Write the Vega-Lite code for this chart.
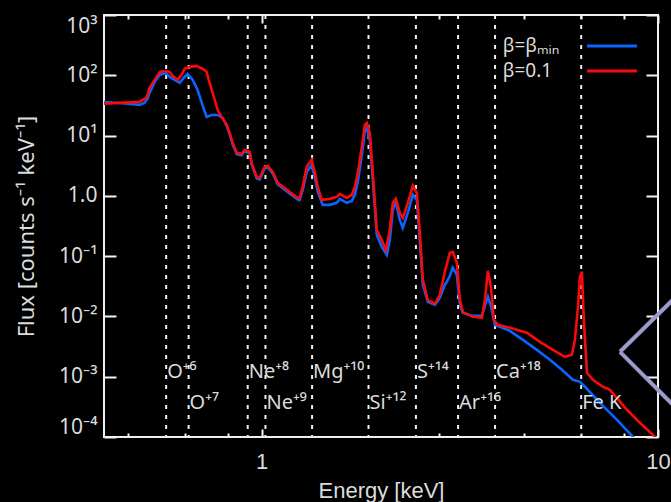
{
  "$schema": "https://vega.github.io/schema/vega-lite/v6.json",
  "width": 554,
  "height": 422,
  "autosize": {"type": "none"},
  "padding": {"left": 104, "top": 15, "right": 13, "bottom": 65},
  "background": "#000000",
  "config": {
    "font": "Liberation Sans",
    "view": {"stroke": "#f0f0f0", "strokeWidth": 2, "fill": "#000000"},
    "axis": {"grid": false, "domain": false, "tickColor": "#f4f4f4", "tickWidth": 2, "labelColor": "#dcdcdc", "titleColor": "#dcdcdc", "labelFont": "Noto Sans", "titleFont": "Noto Sans", "labelFontSize": 21, "titleFontSize": 21, "titleFontWeight": "normal"}
  },
  "datasets": {
    "spectra": [
      {"model": "β=βmin", "energy": 0.395, "flux": 36.2},
      {"model": "β=βmin", "energy": 0.438, "flux": 34.8},
      {"model": "β=βmin", "energy": 0.492, "flux": 32.3},
      {"model": "β=βmin", "energy": 0.506, "flux": 34.8},
      {"model": "β=βmin", "energy": 0.515, "flux": 40.6},
      {"model": "β=βmin", "energy": 0.521, "flux": 51},
      {"model": "β=βmin", "energy": 0.537, "flux": 77.8},
      {"model": "β=βmin", "energy": 0.553, "flux": 101.6},
      {"model": "β=βmin", "energy": 0.572, "flux": 110},
      {"model": "β=βmin", "energy": 0.586, "flux": 94},
      {"model": "β=βmin", "energy": 0.603, "flux": 84},
      {"model": "β=βmin", "energy": 0.621, "flux": 74.8},
      {"model": "β=βmin", "energy": 0.639, "flux": 94},
      {"model": "β=βmin", "energy": 0.650, "flux": 105.5},
      {"model": "β=βmin", "energy": 0.670, "flux": 84},
      {"model": "β=βmin", "energy": 0.689, "flux": 57.3},
      {"model": "β=βmin", "energy": 0.706, "flux": 34.8},
      {"model": "β=βmin", "energy": 0.726, "flux": 20.4},
      {"model": "β=βmin", "energy": 0.748, "flux": 22.0},
      {"model": "β=βmin", "energy": 0.774, "flux": 22.0},
      {"model": "β=βmin", "energy": 0.797, "flux": 19.7},
      {"model": "β=βmin", "energy": 0.816, "flux": 14.5},
      {"model": "β=βmin", "energy": 0.830, "flux": 10.6},
      {"model": "β=βmin", "energy": 0.845, "flux": 7.1},
      {"model": "β=βmin", "energy": 0.865, "flux": 4.9},
      {"model": "β=βmin", "energy": 0.890, "flux": 4.7},
      {"model": "β=βmin", "energy": 0.906, "flux": 5.5},
      {"model": "β=βmin", "energy": 0.933, "flux": 5.1},
      {"model": "β=βmin", "energy": 0.943, "flux": 3.35},
      {"model": "β=βmin", "energy": 0.971, "flux": 1.95},
      {"model": "β=βmin", "energy": 0.988, "flux": 1.88},
      {"model": "β=βmin", "energy": 1.018, "flux": 2.85},
      {"model": "β=βmin", "energy": 1.036, "flux": 2.95},
      {"model": "β=βmin", "energy": 1.066, "flux": 2.35},
      {"model": "β=βmin", "energy": 1.098, "flux": 1.55},
      {"model": "β=βmin", "energy": 1.157, "flux": 1.19},
      {"model": "β=βmin", "energy": 1.233, "flux": 0.87},
      {"model": "β=βmin", "energy": 1.247, "flux": 0.853},
      {"model": "β=βmin", "energy": 1.269, "flux": 1.258},
      {"model": "β=βmin", "energy": 1.299, "flux": 2.50},
      {"model": "β=βmin", "energy": 1.337, "flux": 3.26},
      {"model": "β=βmin", "energy": 1.361, "flux": 2.07},
      {"model": "β=βmin", "energy": 1.385, "flux": 1.17},
      {"model": "β=βmin", "energy": 1.426, "flux": 0.709},
      {"model": "β=βmin", "energy": 1.485, "flux": 0.709},
      {"model": "β=βmin", "energy": 1.547, "flux": 0.766},
      {"model": "β=βmin", "energy": 1.574, "flux": 0.892},
      {"model": "β=βmin", "energy": 1.639, "flux": 0.766},
      {"model": "β=βmin", "energy": 1.688, "flux": 0.826},
      {"model": "β=βmin", "energy": 1.718, "flux": 1.04},
      {"model": "β=βmin", "energy": 1.748, "flux": 1.71},
      {"model": "β=βmin", "energy": 1.789, "flux": 4.78},
      {"model": "β=βmin", "energy": 1.820, "flux": 11.5},
      {"model": "β=βmin", "energy": 1.842, "flux": 13.4},
      {"model": "β=βmin", "energy": 1.874, "flux": 8.5},
      {"model": "β=βmin", "energy": 1.907, "flux": 1.84},
      {"model": "β=βmin", "energy": 1.951, "flux": 0.226},
      {"model": "β=βmin", "energy": 2.009, "flux": 0.143},
      {"model": "β=βmin", "energy": 2.069, "flux": 0.105},
      {"model": "β=βmin", "energy": 2.105, "flux": 0.186},
      {"model": "β=βmin", "energy": 2.142, "flux": 0.586},
      {"model": "β=βmin", "energy": 2.180, "flux": 0.795},
      {"model": "β=βmin", "energy": 2.231, "flux": 0.400},
      {"model": "β=βmin", "energy": 2.270, "flux": 0.295},
      {"model": "β=βmin", "energy": 2.337, "flux": 0.523},
      {"model": "β=βmin", "energy": 2.406, "flux": 1.04},
      {"model": "β=βmin", "energy": 2.463, "flux": 0.859},
      {"model": "β=βmin", "energy": 2.506, "flux": 0.186},
      {"model": "β=βmin", "energy": 2.550, "flux": 0.0336},
      {"model": "β=βmin", "energy": 2.625, "flux": 0.0175},
      {"model": "β=βmin", "energy": 2.735, "flux": 0.0156},
      {"model": "β=βmin", "energy": 2.815, "flux": 0.0204},
      {"model": "β=βmin", "energy": 2.898, "flux": 0.0336},
      {"model": "β=βmin", "energy": 2.933, "flux": 0.0376},
      {"model": "β=βmin", "energy": 2.984, "flux": 0.0472},
      {"model": "β=βmin", "energy": 3.036, "flux": 0.0640},
      {"model": "β=βmin", "energy": 3.108, "flux": 0.0490},
      {"model": "β=βmin", "energy": 3.162, "flux": 0.0156},
      {"model": "β=βmin", "energy": 3.218, "flux": 0.0114},
      {"model": "β=βmin", "energy": 3.411, "flux": 0.0102},
      {"model": "β=βmin", "energy": 3.594, "flux": 0.0102},
      {"model": "β=βmin", "energy": 3.658, "flux": 0.0150},
      {"model": "β=βmin", "energy": 3.722, "flux": 0.0212},
      {"model": "β=βmin", "energy": 3.788, "flux": 0.0150},
      {"model": "β=βmin", "energy": 3.877, "flux": 0.00726},
      {"model": "β=βmin", "energy": 4.229, "flux": 0.00577},
      {"model": "β=βmin", "energy": 4.562, "flux": 0.00409},
      {"model": "β=βmin", "energy": 4.948, "flux": 0.00279},
      {"model": "β=βmin", "energy": 5.337, "flux": 0.00191},
      {"model": "β=βmin", "energy": 5.722, "flux": 0.00130},
      {"model": "β=βmin", "energy": 6.100, "flux": 0.000889},
      {"model": "β=βmin", "energy": 6.353, "flux": 0.000822},
      {"model": "β=βmin", "energy": 6.543, "flux": 0.000681},
      {"model": "β=βmin", "energy": 7.138, "flux": 0.000369},
      {"model": "β=βmin", "energy": 7.880, "flux": 0.000193},
      {"model": "β=βmin", "energy": 8.647, "flux": 0.0001007},
      {"model": "β=βmin", "energy": 9.006, "flux": 0.0000743},
      {"model": "β=0.1", "energy": 0.395, "flux": 33.6},
      {"model": "β=0.1", "energy": 0.438, "flux": 34.8},
      {"model": "β=0.1", "energy": 0.492, "flux": 36.2},
      {"model": "β=0.1", "energy": 0.506, "flux": 40.6},
      {"model": "β=0.1", "energy": 0.513, "flux": 43.8},
      {"model": "β=0.1", "energy": 0.521, "flux": 61.8},
      {"model": "β=0.1", "energy": 0.537, "flux": 84},
      {"model": "β=0.1", "energy": 0.553, "flux": 114},
      {"model": "β=0.1", "energy": 0.572, "flux": 118},
      {"model": "β=0.1", "energy": 0.586, "flux": 114},
      {"model": "β=0.1", "energy": 0.596, "flux": 97.7},
      {"model": "β=0.1", "energy": 0.614, "flux": 84},
      {"model": "β=0.1", "energy": 0.628, "flux": 101.6},
      {"model": "β=0.1", "energy": 0.639, "flux": 128},
      {"model": "β=0.1", "energy": 0.658, "flux": 138},
      {"model": "β=0.1", "energy": 0.685, "flux": 143},
      {"model": "β=0.1", "energy": 0.710, "flux": 128},
      {"model": "β=0.1", "energy": 0.726, "flux": 114},
      {"model": "β=0.1", "energy": 0.735, "flux": 84},
      {"model": "β=0.1", "energy": 0.748, "flux": 57.3},
      {"model": "β=0.1", "energy": 0.761, "flux": 39.1},
      {"model": "β=0.1", "energy": 0.774, "flux": 26.7},
      {"model": "β=0.1", "energy": 0.792, "flux": 20.4},
      {"model": "β=0.1", "energy": 0.816, "flux": 15.0},
      {"model": "β=0.1", "energy": 0.830, "flux": 11.1},
      {"model": "β=0.1", "energy": 0.845, "flux": 7.57},
      {"model": "β=0.1", "energy": 0.865, "flux": 5.16},
      {"model": "β=0.1", "energy": 0.890, "flux": 4.97},
      {"model": "β=0.1", "energy": 0.906, "flux": 5.79},
      {"model": "β=0.1", "energy": 0.933, "flux": 5.37},
      {"model": "β=0.1", "energy": 0.943, "flux": 3.53},
      {"model": "β=0.1", "energy": 0.971, "flux": 2.07},
      {"model": "β=0.1", "energy": 0.988, "flux": 1.99},
      {"model": "β=0.1", "energy": 1.018, "flux": 3.03},
      {"model": "β=0.1", "energy": 1.036, "flux": 3.15},
      {"model": "β=0.1", "energy": 1.066, "flux": 2.50},
      {"model": "β=0.1", "energy": 1.098, "flux": 1.64},
      {"model": "β=0.1", "energy": 1.157, "flux": 1.26},
      {"model": "β=0.1", "energy": 1.233, "flux": 0.926},
      {"model": "β=0.1", "energy": 1.247, "flux": 0.926},
      {"model": "β=0.1", "energy": 1.269, "flux": 1.41},
      {"model": "β=0.1", "energy": 1.299, "flux": 3.03},
      {"model": "β=0.1", "energy": 1.337, "flux": 3.96},
      {"model": "β=0.1", "energy": 1.361, "flux": 2.50},
      {"model": "β=0.1", "energy": 1.385, "flux": 1.41},
      {"model": "β=0.1", "energy": 1.418, "flux": 0.859},
      {"model": "β=0.1", "energy": 1.485, "flux": 0.892},
      {"model": "β=0.1", "energy": 1.547, "flux": 0.962},
      {"model": "β=0.1", "energy": 1.574, "flux": 1.08},
      {"model": "β=0.1", "energy": 1.639, "flux": 0.926},
      {"model": "β=0.1", "energy": 1.688, "flux": 1.04},
      {"model": "β=0.1", "energy": 1.718, "flux": 1.41},
      {"model": "β=0.1", "energy": 1.748, "flux": 2.41},
      {"model": "β=0.1", "energy": 1.789, "flux": 6.50},
      {"model": "β=0.1", "energy": 1.820, "flux": 15.0},
      {"model": "β=0.1", "energy": 1.842, "flux": 16.2},
      {"model": "β=0.1", "energy": 1.874, "flux": 11.1},
      {"model": "β=0.1", "energy": 1.907, "flux": 2.41},
      {"model": "β=0.1", "energy": 1.951, "flux": 0.273},
      {"model": "β=0.1", "energy": 2.009, "flux": 0.186},
      {"model": "β=0.1", "energy": 2.057, "flux": 0.127},
      {"model": "β=0.1", "energy": 2.105, "flux": 0.273},
      {"model": "β=0.1", "energy": 2.142, "flux": 0.766},
      {"model": "β=0.1", "energy": 2.180, "flux": 0.892},
      {"model": "β=0.1", "energy": 2.231, "flux": 0.523},
      {"model": "β=0.1", "energy": 2.270, "flux": 0.432},
      {"model": "β=0.1", "energy": 2.337, "flux": 0.766},
      {"model": "β=0.1", "energy": 2.406, "flux": 1.47},
      {"model": "β=0.1", "energy": 2.463, "flux": 1.12},
      {"model": "β=0.1", "energy": 2.506, "flux": 0.243},
      {"model": "β=0.1", "energy": 2.550, "flux": 0.0405},
      {"model": "β=0.1", "energy": 2.625, "flux": 0.0188},
      {"model": "β=0.1", "energy": 2.735, "flux": 0.0162},
      {"model": "β=0.1", "energy": 2.815, "flux": 0.0228},
      {"model": "β=0.1", "energy": 2.898, "flux": 0.0549},
      {"model": "β=0.1", "energy": 2.984, "flux": 0.1135},
      {"model": "β=0.1", "energy": 3.036, "flux": 0.118},
      {"model": "β=0.1", "energy": 3.108, "flux": 0.0774},
      {"model": "β=0.1", "energy": 3.162, "flux": 0.0188},
      {"model": "β=0.1", "energy": 3.218, "flux": 0.0119},
      {"model": "β=0.1", "energy": 3.411, "flux": 0.00985},
      {"model": "β=0.1", "energy": 3.594, "flux": 0.00948},
      {"model": "β=0.1", "energy": 3.658, "flux": 0.0188},
      {"model": "β=0.1", "energy": 3.722, "flux": 0.0570},
      {"model": "β=0.1", "energy": 3.788, "flux": 0.0310},
      {"model": "β=0.1", "energy": 3.854, "flux": 0.00879},
      {"model": "β=0.1", "energy": 3.945, "flux": 0.00726},
      {"model": "β=0.1", "energy": 4.229, "flux": 0.00647},
      {"model": "β=0.1", "energy": 4.669, "flux": 0.00535},
      {"model": "β=0.1", "energy": 5.035, "flux": 0.00379},
      {"model": "β=0.1", "energy": 5.430, "flux": 0.00279},
      {"model": "β=0.1", "energy": 5.824, "flux": 0.00214},
      {"model": "β=0.1", "energy": 6.065, "flux": 0.00231},
      {"model": "β=0.1", "energy": 6.171, "flux": 0.00409},
      {"model": "β=0.1", "energy": 6.281, "flux": 0.0144},
      {"model": "β=0.1", "energy": 6.353, "flux": 0.0454},
      {"model": "β=0.1", "energy": 6.428, "flux": 0.0549},
      {"model": "β=0.1", "energy": 6.503, "flux": 0.00783},
      {"model": "β=0.1", "energy": 6.618, "flux": 0.00116},
      {"model": "β=0.1", "energy": 6.851, "flux": 0.000889},
      {"model": "β=0.1", "energy": 7.262, "flux": 0.000681},
      {"model": "β=0.1", "energy": 7.564, "flux": 0.000607},
      {"model": "β=0.1", "energy": 8.352, "flux": 0.000283},
      {"model": "β=0.1", "energy": 9.006, "flux": 0.000172},
      {"model": "β=0.1", "energy": 9.827, "flux": 0.0001007},
      {"model": "β=0.1", "energy": 10.1, "flux": 0.0000832}
    ],
    "lines": [
      {"ion": "O⁺⁶", "energy": 0.574, "tier": "upper"},
      {"ion": "O⁺⁷", "energy": 0.654, "tier": "lower"},
      {"ion": "Ne⁺⁸", "energy": 0.922, "tier": "upper"},
      {"ion": "Ne⁺⁹", "energy": 1.022, "tier": "lower"},
      {"ion": "Mg⁺¹⁰", "energy": 1.34, "tier": "upper"},
      {"ion": "Si⁺¹²", "energy": 1.86, "tier": "lower"},
      {"ion": "S⁺¹⁴", "energy": 2.45, "tier": "upper"},
      {"ion": "Ar⁺¹⁶", "energy": 3.13, "tier": "lower"},
      {"ion": "Ca⁺¹⁸", "energy": 3.88, "tier": "upper"},
      {"ion": "Fe K", "energy": 6.4, "tier": "lower"}
    ],
    "legend": [
      {"model": "β=βₘᵢₙ", "level": 307, "color": "blue"},
      {"model": "β=0.1", "level": 118, "color": "red"}
    ],
    "chevron": [
      {"e1": 8.02, "f1": 0.00259, "e2": 11.7, "f2": 0.0298},
      {"e1": 8.02, "f1": 0.00259, "e2": 11.7, "f2": 0.000216}
    ]
  },
  "resolve": {"axis": {"x": "independent", "y": "independent"}},
  "layer": [
    {
      "data": {"name": "lines"},
      "mark": {"type": "rule", "color": "#f0f0f0", "strokeWidth": 2, "strokeDash": [4, 6]},
      "encoding": {
        "x": {"field": "energy", "type": "quantitative",
          "scale": {"type": "log", "domain": [0.4, 10], "nice": false},
          "axis": {"orient": "bottom", "values": [1, 10], "tickSize": -8, "labelPadding": 39, "labelBaseline": "alphabetic", "labelFlush": false, "labelFont": "Liberation Sans", "labelFontSize": 22,
            "labelExpr": "datum.value > 5 ? '10' : '1'",
            "title": "Energy [keV]", "titleFont": "Liberation Sans", "titleX": 277, "titleY": 60, "titleBaseline": "alphabetic", "titleAnchor": "middle", "titleAlign": "center", "titleFontSize": 22}}
      }
    },
    {
      "data": {"name": "spectra"},
      "transform": [{"filter": "datum.model == 'β=βmin'"}],
      "mark": {"type": "line", "color": "#0a64ff", "strokeWidth": 2.6, "clip": true},
      "encoding": {
        "x": {"field": "energy", "type": "quantitative",
          "scale": {"type": "log", "domain": [0.4, 10], "nice": false},
          "axis": {"orient": "bottom", "values": [0.46, 0.64, 0.82, 2.8, 4.6, 6.4, 8.2], "tickSize": -4, "labels": false, "title": null}},
        "y": {"field": "flux", "type": "quantitative",
          "scale": {"type": "log", "domain": [0.0001, 1000], "nice": false},
          "axis": {"orient": "left", "values": [0.0001, 0.001, 0.01, 0.1, 1, 10, 100, 1000], "tickSize": -12, "labelPadding": 19, "labelFlush": true,
            "labelExpr": "datum.value > 500 ? '10³' : datum.value > 50 ? '10²' : datum.value > 5 ? '10¹' : datum.value > 0.5 ? '1.0' : datum.value > 0.05 ? '10⁻¹' : datum.value > 0.005 ? '10⁻²' : datum.value > 0.0005 ? '10⁻³' : '10⁻⁴'",
            "title": "Flux [counts s⁻¹ keV⁻¹]", "titleX": -78, "titleY": 211, "titleAngle": -90, "titleBaseline": "middle", "titleAlign": "center", "titleFontSize": 22}}
      }
    },
    {
      "data": {"name": "spectra"},
      "transform": [{"filter": "datum.model == 'β=0.1'"}],
      "mark": {"type": "line", "color": "#f80a0a", "strokeWidth": 2.6, "clip": true},
      "encoding": {
        "x": {"field": "energy", "type": "quantitative",
          "scale": {"type": "log", "domain": [0.4, 10], "nice": false},
          "axis": {"orient": "top", "values": [1, 10], "tickSize": -8, "labels": false, "title": null}},
        "y": {"field": "flux", "type": "quantitative",
          "scale": {"type": "log", "domain": [0.0001, 1000], "nice": false},
          "axis": {"orient": "right", "values": [0.0001, 0.001, 0.01, 0.1, 1, 10, 100, 1000], "tickSize": -12, "labels": false, "title": null}}
      }
    },
    {
      "data": {"name": "lines"},
      "transform": [{"filter": "datum.tier == 'upper'"}],
      "mark": {"type": "text", "color": "#dcdcdc", "font": "Noto Sans", "fontSize": 20, "align": "left", "baseline": "alphabetic", "dx": 1},
      "encoding": {
        "x": {"field": "energy", "type": "quantitative",
          "scale": {"type": "log", "domain": [0.4, 10], "nice": false},
          "axis": {"orient": "top", "values": [0.46, 0.64, 0.82, 2.8, 4.6, 6.4, 8.2], "tickSize": -4, "labels": false, "title": null}},
        "y": {"datum": 0.00096, "type": "quantitative", "scale": {"type": "log", "domain": [0.0001, 1000], "nice": false}, "axis": null},
        "text": {"field": "ion"}
      }
    },
    {
      "data": {"name": "lines"},
      "transform": [{"filter": "datum.tier == 'lower'"}],
      "mark": {"type": "text", "color": "#dcdcdc", "font": "Noto Sans", "fontSize": 20, "align": "left", "baseline": "alphabetic", "dx": 1},
      "encoding": {
        "x": {"field": "energy", "type": "quantitative", "scale": {"type": "log", "domain": [0.4, 10], "nice": false}, "axis": null},
        "y": {"datum": 0.00029, "type": "quantitative", "scale": {"type": "log", "domain": [0.0001, 1000], "nice": false}, "axis": null},
        "text": {"field": "ion"}
      }
    },
    {
      "mark": {"type": "text", "color": "#dcdcdc", "fontSize": 26, "align": "left", "baseline": "alphabetic"},
      "encoding": {
        "x": {"datum": 0.435, "type": "quantitative", "scale": {"type": "log", "domain": [0.4, 10], "nice": false}, "axis": null},
        "y": {"datum": 0.000216, "type": "quantitative", "scale": {"type": "log", "domain": [0.0001, 1000], "nice": false}, "axis": null},
        "text": {"value": "DDTe"}
      }
    },
    {
      "data": {"name": "legend"},
      "mark": {"type": "text", "color": "#dcdcdc", "font": "Noto Sans", "fontSize": 19, "align": "left", "baseline": "middle"},
      "encoding": {
        "x": {"datum": 4.06, "type": "quantitative", "scale": {"type": "log", "domain": [0.4, 10], "nice": false}, "axis": null},
        "y": {"field": "level", "type": "quantitative", "scale": {"type": "log", "domain": [0.0001, 1000], "nice": false}, "axis": null},
        "text": {"field": "model"}
      }
    },
    {
      "data": {"name": "legend"},
      "mark": {"type": "rule", "strokeWidth": 3},
      "encoding": {
        "x": {"datum": 6.62, "type": "quantitative", "scale": {"type": "log", "domain": [0.4, 10], "nice": false}, "axis": null},
        "x2": {"datum": 8.85},
        "y": {"field": "level", "type": "quantitative", "scale": {"type": "log", "domain": [0.0001, 1000], "nice": false}, "axis": null},
        "color": {"field": "color", "type": "nominal", "scale": {"domain": ["blue", "red"], "range": ["#0a64ff", "#f80a0a"]}, "legend": null}
      }
    },
    {
      "data": {"name": "chevron"},
      "mark": {"type": "rule", "color": "#9a9acc", "strokeWidth": 4, "clip": false},
      "encoding": {
        "x": {"field": "e1", "type": "quantitative", "scale": {"type": "log", "domain": [0.4, 10], "nice": false}, "axis": null},
        "x2": {"field": "e2"},
        "y": {"field": "f1", "type": "quantitative", "scale": {"type": "log", "domain": [0.0001, 1000], "nice": false}, "axis": null},
        "y2": {"field": "f2"}
      }
    }
  ]
}
